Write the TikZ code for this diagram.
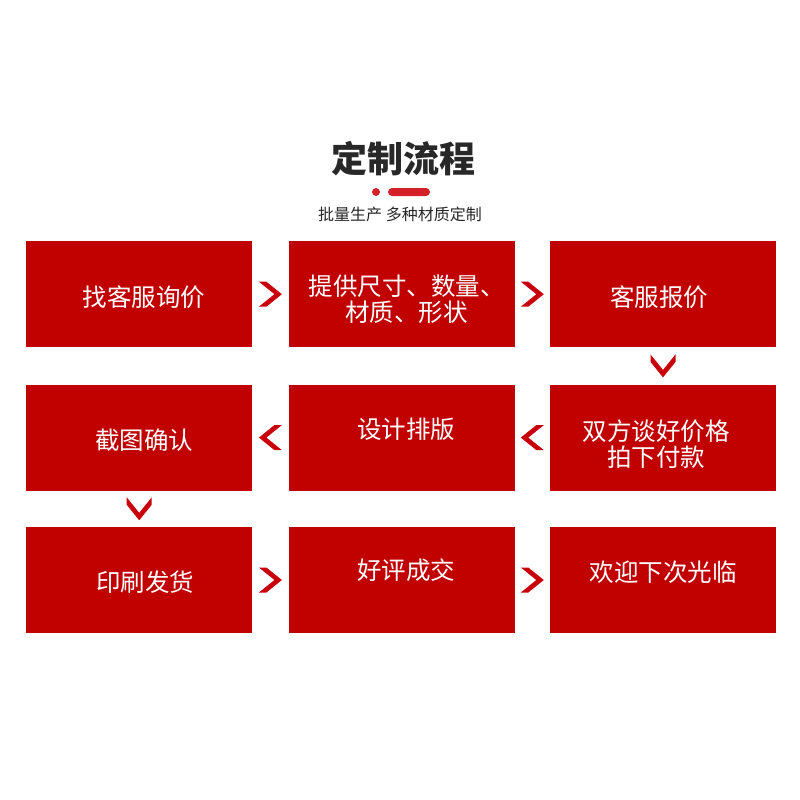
\documentclass[tikz,border=0pt]{standalone}
\usepackage{fontspec}
\newfontfamily\cjk{Noto Sans CJK SC}
\usetikzlibrary{positioning,calc}
\definecolor{boxred}{RGB}{193,0,0}
\definecolor{chevred}{RGB}{200,0,12}
\definecolor{dotred}{RGB}{212,32,40}
\definecolor{titlegray}{RGB}{40,40,40}

\tikzset{
  stepbox/.style={fill=boxred, minimum width=226pt, minimum height=106pt, inner sep=0pt},
  steptext/.style={text=white, inner sep=0pt, align=center,
    font=\cjk\fontsize{24.5}{26}\selectfont},
  chevron/.pic={\fill[chevred] (-11.5,12.5) -- (-4,12.5) -- (11.5,0) -- (-4,-12.5)
    -- (-11.5,-12.5) -- (4,0) -- cycle;}
}

\begin{document}
\begin{tikzpicture}[x=1pt,y=-1pt]
  \fill[white] (0,0) rectangle (800,800);
  \useasboundingbox (0,0) rectangle (800,800);

  %% heading
  \node[font=\cjk\bfseries\fontsize{36}{40}\selectfont, text=titlegray] (title) at (403,159) {定制流程};
  \fill[dotred] (376,192) circle (4);
  \fill[dotred, rounded corners=4] (388,188) rectangle (430,196);
  \node[font=\cjk\fontsize{16}{18}\selectfont, text=titlegray] (sub) at (400,214) {批量生产 多种材质定制};

  %% steps
  \node[stepbox, anchor=north west, label={[steptext, shift={(5pt,-3pt)}]center:找客服询价}] (ask) at (26,241) {};
  \node[stepbox, right=36pt of ask, label={[steptext, shift={(5pt,-5.5pt)}]center:提供尺寸、数量、\\材质、形状}] (size) {};
  \node[stepbox, right=35pt of size, label={[steptext, shift={(-4pt,-3pt)}]center:客服报价}] (quote) {};
  \node[stepbox, below=37pt of quote, label={[steptext, shift={(-7pt,-7pt)}]center:双方谈好价格\\拍下付款}] (pay) {};
  \node[stepbox, below=37pt of size, label={[steptext, shift={(4.5pt,8pt)}]center:设计排版}] (design) {};
  \node[stepbox, below=37pt of ask, label={[steptext, shift={(5pt,-3pt)}]center:截图确认}] (check) {};
  \node[stepbox, below=36pt of check, label={[steptext, shift={(6pt,-2.5pt)}]center:印刷发货}] (print) {};
  \node[stepbox, right=36pt of print, label={[steptext, shift={(4.5pt,10pt)}]center:好评成交}] (deal) {};
  \node[stepbox, right=35pt of deal, label={[steptext, shift={(0pt,8pt)}]center:欢迎下次光临}] (again) {};

  %% chevrons between steps
  \pic at ($(ask.east)!0.5!(size.west)$) {chevron};
  \pic at ($(size.east)!0.5!(quote.west)$) {chevron};
  \pic[rotate=-90] at ($(quote.south)!0.5!(pay.north)$) {chevron};
  \pic[rotate=180] at ($(pay.west)!0.5!(design.east)$) {chevron};
  \pic[rotate=180] at ($(design.west)!0.5!(check.east)$) {chevron};
  \pic[rotate=-90] at ($(check.south)!0.5!(print.north)$) {chevron};
  \pic at ($(print.east)!0.5!(deal.west)$) {chevron};
  \pic at ($(deal.east)!0.5!(again.west)$) {chevron};
\end{tikzpicture}
\end{document}
